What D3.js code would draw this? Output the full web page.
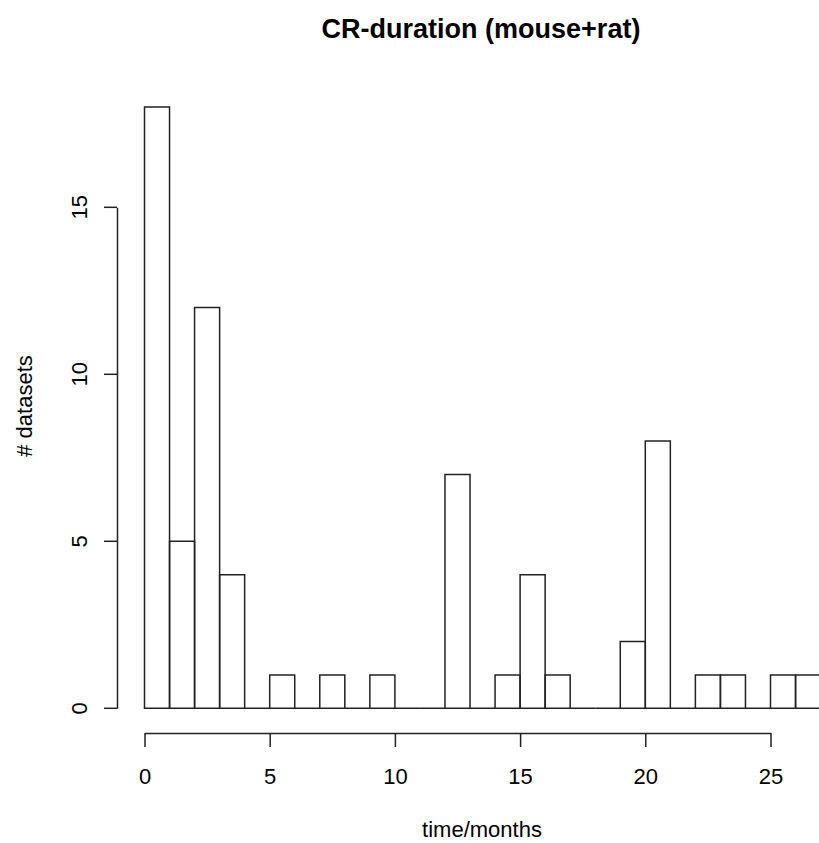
<!DOCTYPE html>
<html>
<head>
<meta charset="utf-8">
<script src="https://cdn.jsdelivr.net/npm/d3@7"></script>
<style>
  body { margin: 0; background: #fff; }
  text { font-family: "Liberation Sans", Arial, sans-serif; fill: #000; }
</style>
</head>
<body>
<div id="chart"></div>
<script>
// histogram bins, width 1 month
const binStarts = [0,1,2,3,4,5,6,7,8,9,10,11,12,13,14,15,16,17,18,19,20,21,22,23,24,25,26];
const counts = [18,5,12,4,0,1,0,1,0,1,0,0,7,0,1,4,1,0,0,2,8,0,1,1,0,1,1];
const xTicks = [0,5,10,15,20,25];
const yTicks = [0,5,10,15];

const width = 819, height = 843;

const svg = d3.select('#chart').append('svg')
    .attr('width', width)
    .attr('height', height);

let x = d3.scaleLinear().domain([0, 25]).range([144.5, 770.5]);
let y = d3.scaleLinear().domain([0, 15]).range([708.3, 207.3]);

// bars as closed paths so empty bins still show their bottom edge (like R)
svg.append('g')
    .selectAll('path')
    .data(binStarts)
    .join('path')
    .attr('d', (d, i) => {
        let x0 = x(d), x1 = x(d + 1), y0 = y(0), y1 = y(counts[i]);
        return `M${x0},${y0}L${x0},${y1}L${x1},${y1}L${x1},${y0}Z`;
    })
    .attr('fill', 'none')
    .attr('stroke', '#222')
    .attr('stroke-width', 1.5);

// x axis
let xAxis = svg.append('g')
    .attr('transform', 'translate(0,733)')
    .call(d3.axisBottom(x).tickValues(xTicks).tickSize(14).tickSizeOuter(0));
xAxis.selectAll('path, line').attr('stroke', '#222').attr('stroke-width', 1.5);
xAxis.selectAll('text')
    .attr('y', 51).attr('dy', 0)
    .style('font-size', '22px')
    .style('font-family', '"Liberation Sans", Arial, sans-serif')
    .attr('fill', '#000');

// y axis
let yAxis = svg.append('g')
    .attr('transform', 'translate(117,0)')
    .call(d3.axisLeft(y).tickValues(yTicks).tickSize(13).tickSizeOuter(0));
yAxis.selectAll('path, line').attr('stroke', '#222').attr('stroke-width', 1.5);
yAxis.selectAll('text')
    .attr('x', null).attr('dy', null)
    .attr('transform', d => 'translate(-30,' + y(d) + ') rotate(-90)')
    .attr('text-anchor', 'middle')
    .style('font-size', '22px')
    .style('font-family', '"Liberation Sans", Arial, sans-serif')
    .attr('fill', '#000');
// d3 puts ticks via transform on the group, so reset the y offset
yAxis.selectAll('.tick').attr('transform', null);
yAxis.selectAll('.tick line').attr('y1', d => y(d)).attr('y2', d => y(d));

// title
svg.append('text')
    .text('CR-duration (mouse+rat)')
    .attr('x', 481)
    .attr('y', 38)
    .attr('text-anchor', 'middle')
    .style('font-size', '27px')
    .attr('font-weight', 'bold');

// axis titles
svg.append('text')
    .text('time/months')
    .attr('x', 482)
    .attr('y', 837)
    .attr('text-anchor', 'middle')
    .style('font-size', '22px');

svg.append('text')
    .text('# datasets')
    .attr('transform', 'translate(32,406) rotate(-90)')
    .attr('text-anchor', 'middle')
    .style('font-size', '22px');
</script>
</body>
</html>
